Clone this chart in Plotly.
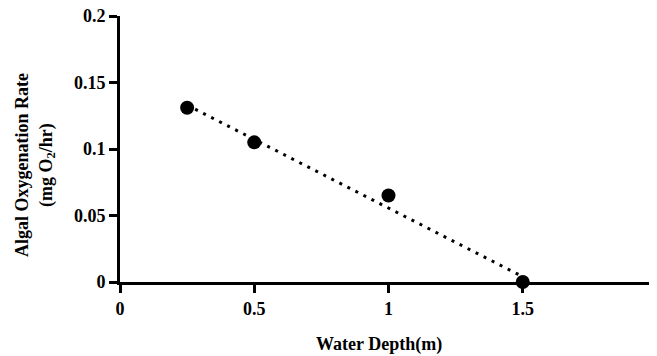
import plotly.graph_objects as go

depth = [0.25, 0.5, 1.0, 1.5]
rate = [0.131, 0.105, 0.065, 0.0]
fit_x = [0.25, 1.5]
fit_y = [0.133, 0.004]
x_ticks = [0, 0.5, 1, 1.5, 2]
x_labels = ["0", "0.5", "1", "1.5", "2"]
y_ticks = [0, 0.05, 0.1, 0.15, 0.2]
y_labels = ["0", "0.05", "0.1", "0.15", "0.2"]

FONT = "Liberation Serif"

fig = go.Figure()
fig.add_trace(go.Scatter(x=fit_x, y=fit_y, mode="lines",
                         line=dict(color="black", width=3, dash="3px,6px"),
                         showlegend=False, hoverinfo="skip"))
fig.add_trace(go.Scatter(x=depth, y=rate, mode="markers",
                         marker=dict(color="black", size=14),
                         showlegend=False, cliponaxis=False))

axis_common = dict(showgrid=False, zeroline=False, showline=True,
                   linecolor="black", linewidth=3, ticks="outside",
                   ticklen=8, tickwidth=3, tickcolor="black",
                   tickfont=dict(family=FONT, size=18, weight="bold"),
                   ticklabeloverflow="allow",
                   automargin=False, fixedrange=True)

fig.update_layout(
    width=649, height=348,
    margin=dict(l=112, r=0, t=8, b=74),
    plot_bgcolor="white", paper_bgcolor="white",
    font=dict(family=FONT, color="black"),
    xaxis=dict(range=[0, 2], tickvals=x_ticks, ticktext=x_labels, **axis_common),
    yaxis=dict(range=[0, 0.2], tickvals=y_ticks, ticktext=y_labels, **axis_common),
    annotations=[
        dict(text="Water Depth(m)", xref="paper", yref="paper",
             x=0.482, y=-0.236, xanchor="center", yanchor="middle",
             showarrow=False,
             font=dict(family=FONT, size=18, weight="bold")),
        dict(text="Algal Oxygenation Rate<br>(mg O<sub>2</sub>/hr)",
             xref="paper", yref="paper", x=-0.158, y=0.44,
             xanchor="center", yanchor="middle",
             textangle=-90, showarrow=False,
             font=dict(family=FONT, size=18, weight="bold")),
    ],
)

fig.write_html("out.html")
